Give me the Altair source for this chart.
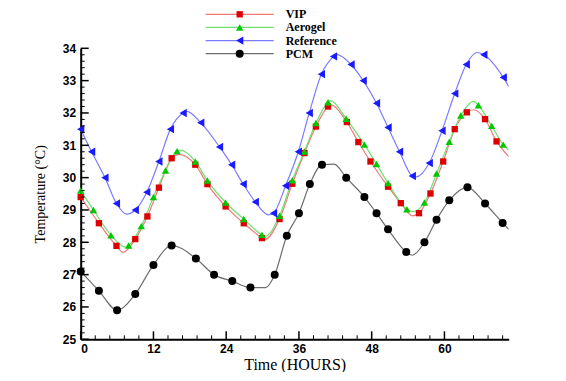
import altair as alt
import pandas as pd

# ---------------- data ----------------
series_names = ["VIP", "Aerogel", "Reference", "PCM"]

vip_h = [0, 3.0, 5.9, 9.0, 11.0, 12.9, 15.0, 18.9, 20.9, 23.9, 26.9, 29.9, 32.8, 34.9,
         36.9, 38.8, 40.8, 43.9, 45.8, 47.8, 50.7, 52.8, 55.8, 57.7, 59.8, 61.7, 63.7,
         66.7, 68.6]
vip_t = [29.4, 28.59, 27.89, 28.1, 28.8, 29.69, 30.6, 30.4, 29.8, 29.11, 28.59, 28.13,
         28.72, 29.81, 30.76, 31.58, 32.2, 31.72, 31.1, 30.5, 29.72, 29.21, 28.9, 29.51,
         30.5, 31.5, 32.02, 31.81, 31.12]
vip_line_h = [7.0, 16.2, 30.3, 41.2, 54.7, 64.8, 70.6]
vip_line_t = [27.69, 30.72, 28.08, 32.25, 28.82, 32.1, 30.65]

aer_h = [0, 2.1, 5.0, 7.9, 10.0, 12.0, 14.0, 15.9, 18.9, 20.9, 23.9, 26.9, 29.9, 32.8,
         34.9, 36.9, 38.8, 40.8, 43.8, 46.8, 48.8, 50.7, 53.8, 56.7, 58.7, 60.8, 62.7,
         65.6, 67.8, 69.7]
aer_t = [29.6, 29.0, 28.22, 27.9, 28.5, 29.4, 30.22, 30.82, 30.5, 29.91, 29.23, 28.72,
         28.23, 28.82, 29.92, 30.81, 31.69, 32.33, 31.82, 31.02, 30.42, 29.83, 29.02,
         29.23, 30.13, 31.11, 31.92, 32.24, 31.6, 31.02]
aer_line_h = [7.4, 16.5, 30.4, 41.2, 54.8, 64.8, 70.6]
aer_line_t = [27.85, 30.85, 28.18, 32.38, 28.95, 32.36, 30.85]

ref_h = [0, 1.8, 4.0, 5.9, 9.0, 10.9, 12.9, 14.8, 16.9, 19.8, 22.9, 24.9, 26.8, 28.8,
         31.8, 33.8, 35.9, 37.7, 39.7, 41.7, 44.6, 46.6, 48.8, 50.7, 52.6, 54.7, 57.5,
         59.6, 61.7, 63.6, 66.5, 69.7]
ref_t = [31.5, 30.8, 30.0, 29.2, 29.0, 29.55, 30.5, 31.5, 32.0, 31.7, 30.95, 30.4, 29.8,
         29.25, 28.9, 29.75, 30.8, 32.0, 33.2, 33.75, 33.5, 33.0, 32.3, 31.55, 30.8,
         30.05, 30.45, 31.45, 32.6, 33.5, 33.8, 33.1]
ref_line_h = [7.6, 17.5, 31.0, 42.1, 55.3, 65.4, 70.6]
ref_line_t = [28.87, 32.05, 28.85, 33.82, 30.02, 33.87, 32.82]

pcm_h = [0, 3, 6, 9, 12, 15, 19, 22, 25, 28, 32, 34, 36, 37.8, 39.8, 43.8, 46.8, 48.8,
         50.7, 53.7, 56.7, 58.7, 60.8, 63.8, 66.7, 69.6]
pcm_t = [27.1, 26.5, 25.9, 26.4, 27.3, 27.9, 27.5, 27.0, 26.8, 26.6, 27.0, 28.2, 28.9,
         29.8, 30.4, 30.0, 29.4, 28.9, 28.4, 27.7, 28.0, 28.7, 29.3, 29.7, 29.2, 28.6]
pcm_line_h = [30.5, 41.8, 54.7, 70.6]
pcm_line_t = [26.6, 30.42, 27.6, 28.4]

line_colors = ["#f07a7a", "#6ee06e", "#7b7bff", "#6e6e6e"]
marker_colors = ["#dd0000", "#00c800", "#1a1aff", "#000000"]
marker_shapes = ["square", "triangle-up", "triangle-left", "circle"]
marker_sizes = [40, 55, 70, 64]

x_major = [0, 12, 24, 36, 48, 60]
y_major = [25, 26, 27, 28, 29, 30, 31, 32, 33, 34]
x_minor = [2.4, 4.8, 7.2, 9.6, 14.4, 16.8, 19.2, 21.6, 26.4, 28.8, 31.2, 33.6, 38.4,
           40.8, 43.2, 45.6, 50.4, 52.8, 55.2, 57.6, 62.4, 64.8, 67.2, 69.6]
y_minor = [round(25 + 0.2 * i, 1) for i in range(46) if i % 5 != 0]

# ---------------- build ----------------
W, H = 428, 291
xs = alt.Scale(domain=[0, 70.6], nice=False, zero=False)
ys = alt.Scale(domain=[25, 34], nice=False, zero=False)

x_axis = alt.Axis(values=x_major, ticks=False, grid=False, domainColor="black",
                  domainWidth=2, labelFont="Liberation Sans", labelFontWeight="bold",
                  labelFontSize=12, labelColor="black", labelPadding=4,
                  title="Time (HOURS)", titleFont="Liberation Serif",
                  titleFontWeight="normal", titleFontSize=16, titleColor="black",
                  titlePadding=2)
y_axis = alt.Axis(values=y_major, ticks=False, grid=False, domainColor="black",
                  domainWidth=2, labelFont="Liberation Sans", labelFontWeight="bold",
                  labelFontSize=12, labelColor="black", labelPadding=5,
                  title="Temperature (°C)", titleFont="Liberation Serif",
                  titleFontWeight="normal", titleFontSize=14, titleColor="black",
                  titlePadding=15)


def X(f):
    return alt.X(f, type="quantitative", scale=xs, axis=x_axis)


def Y(f):
    return alt.Y(f, type="quantitative", scale=ys, axis=y_axis)


series = [
    (vip_h, vip_t, vip_line_h, vip_line_t),
    (aer_h, aer_t, aer_line_h, aer_line_t),
    (ref_h, ref_t, ref_line_h, ref_line_t),
    (pcm_h, pcm_t, pcm_line_h, pcm_line_t),
]

layers = []
for i, (mh, mt, lh, lt) in enumerate(series):
    dline = pd.DataFrame({"h": list(mh) + list(lh), "T": list(mt) + list(lt)}).sort_values("h")
    layers.append(alt.Chart(dline).mark_line(color=line_colors[i], strokeWidth=1.2,
                                              interpolate="monotone", clip=True)
                  .encode(x=X("h"), y=Y("T")))
for i, (mh, mt, lh, lt) in enumerate(series):
    dmark = pd.DataFrame({"h": mh, "T": mt})
    layers.append(alt.Chart(dmark).mark_point(shape=marker_shapes[i], filled=True,
                                               color=marker_colors[i], opacity=1,
                                               size=marker_sizes[i])
                  .encode(x=X("h"), y=Y("T")))

# inward ticks
layers.append(alt.Chart(pd.DataFrame({"v": x_major})).mark_rule(color="black", strokeWidth=1.5)
              .encode(x=X("v"), y=alt.value(H), y2=alt.value(H - 8)))
layers.append(alt.Chart(pd.DataFrame({"v": x_minor})).mark_rule(color="black", strokeWidth=1)
              .encode(x=X("v"), y=alt.value(H), y2=alt.value(H - 4)))
layers.append(alt.Chart(pd.DataFrame({"v": y_major})).mark_rule(color="black", strokeWidth=1.5)
              .encode(y=Y("v"), x=alt.value(0), x2=alt.value(8)))
layers.append(alt.Chart(pd.DataFrame({"v": y_minor})).mark_rule(color="black", strokeWidth=1)
              .encode(y=Y("v"), x=alt.value(0), x2=alt.value(4)))

main = alt.layer(*layers)

# legend
leg = pd.DataFrame({"name": series_names, "row": [0, 1, 2, 3],
                    "lc": line_colors, "mc": marker_colors})
ly = alt.Y("row:Q", scale=alt.Scale(domain=[0, 3], range=[-34, 5.4]), axis=None)
leg_layers = []
for i, n in enumerate(series_names):
    d = leg[leg["name"] == n]
    leg_layers.append(alt.Chart(d).mark_rule(color=line_colors[i], strokeWidth=1.2)
                      .encode(y=ly, x=alt.value(125), x2=alt.value(193)))
    leg_layers.append(alt.Chart(d).mark_point(shape=marker_shapes[i], filled=True,
                                              color=marker_colors[i], opacity=1,
                                              size=marker_sizes[i])
                      .encode(y=ly, x=alt.value(159)))
leg_layers.append(alt.Chart(leg).mark_text(align="left", baseline="middle",
                                           font="Liberation Serif", fontWeight="bold",
                                           fontSize=12, color="black")
                  .encode(y=ly, x=alt.value(205), text="name:N"))
legend = alt.layer(*leg_layers)

chart = (alt.layer(main, legend)
         .resolve_scale(y="independent")
         .properties(width=W, height=H,
                     autosize=alt.AutoSizeParams(type="none"),
                     padding={"left": 72.7, "top": 40.3, "right": 45, "bottom": 33},
                     background="white")
         .configure_view(stroke=None))

chart.save("out.html", embed_options={"renderer": "svg", "actions": False})
